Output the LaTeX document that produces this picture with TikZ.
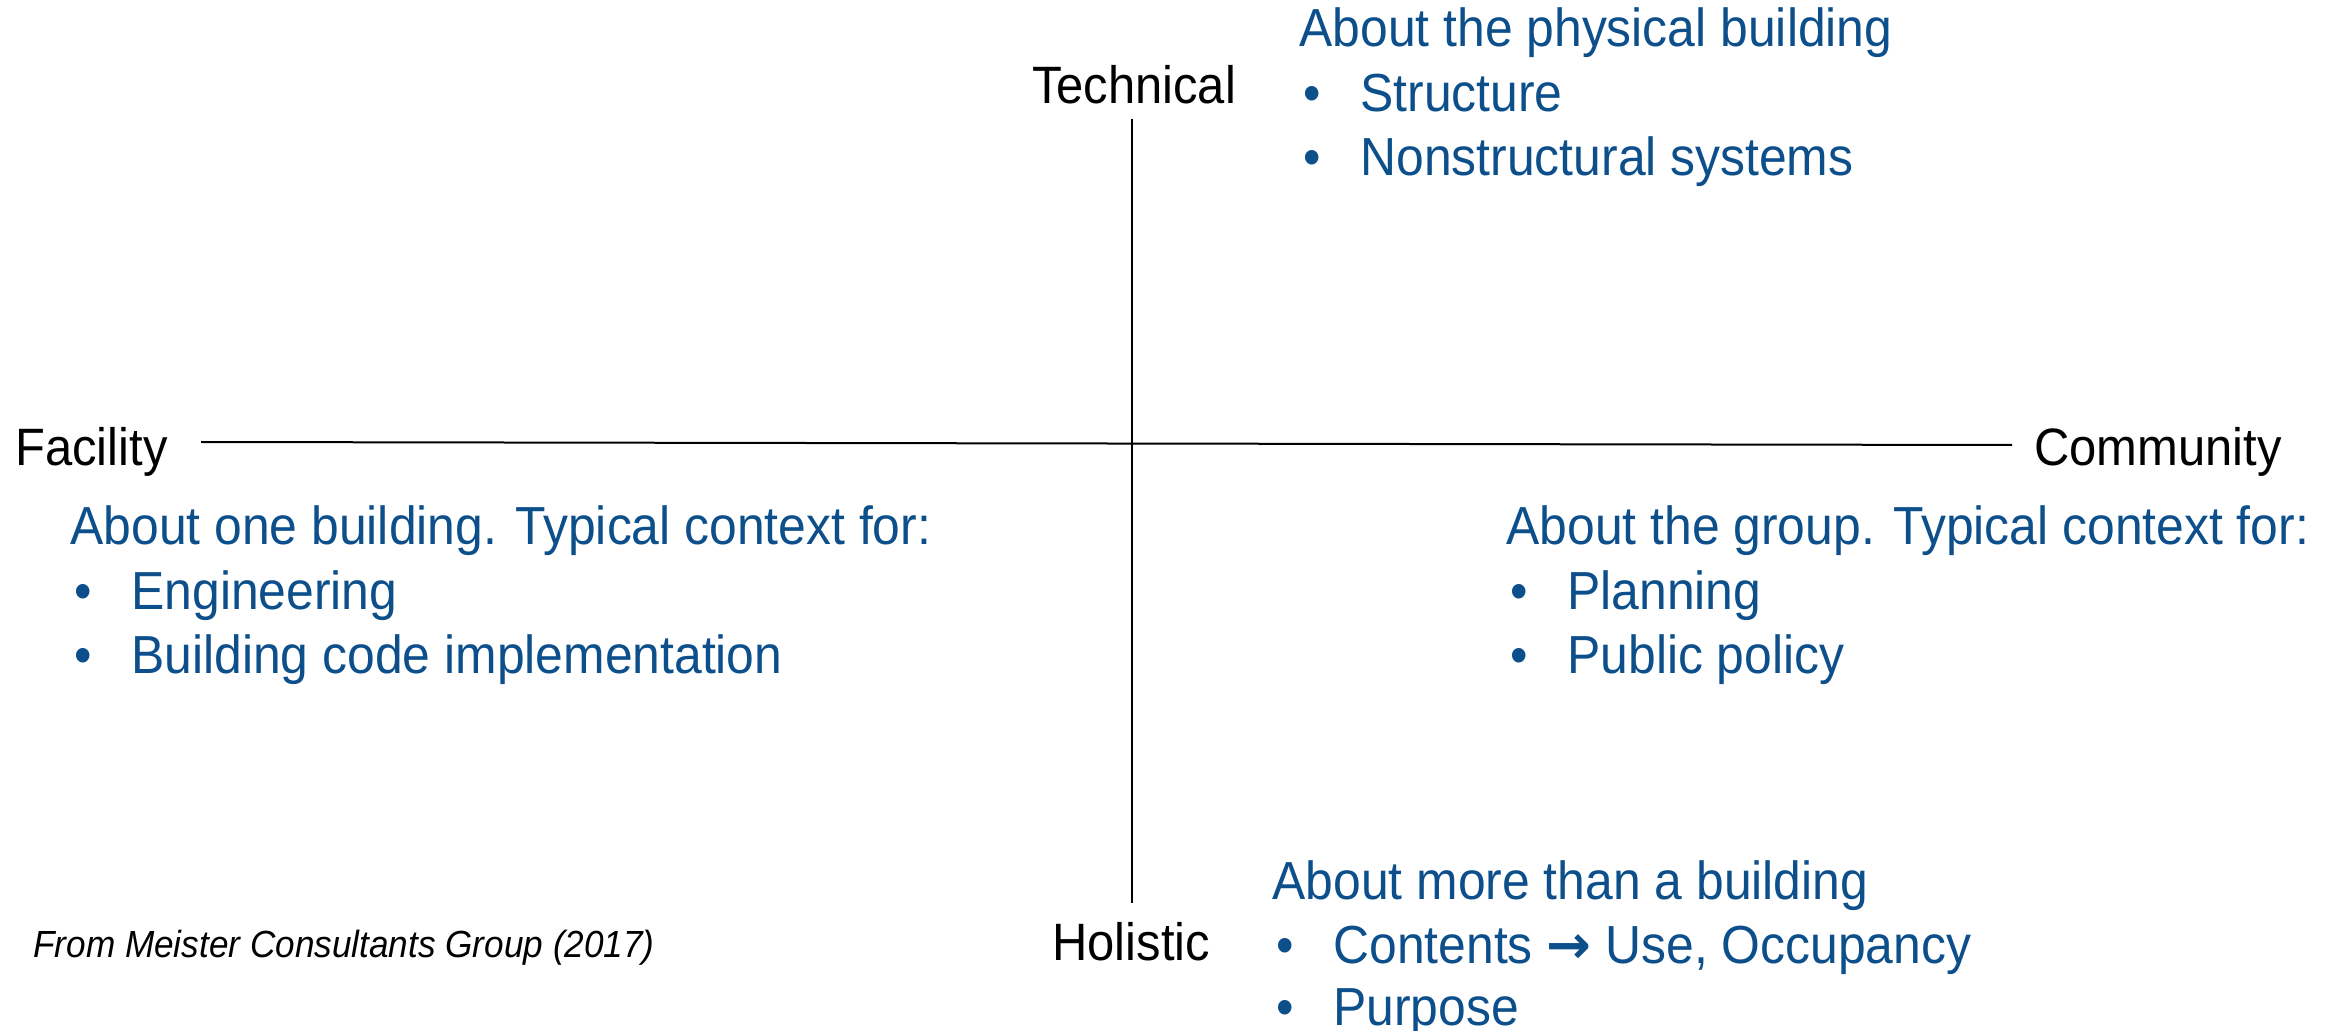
\documentclass[tikz,border=0pt]{standalone}
\usepackage{fontspec}
\setmainfont{Liberation Sans}[FakeStretch=0.93]
\newfontfamily\arrowfont{DejaVu Sans}
\definecolor{txtblue}{RGB}{13,79,139}
\begin{document}
\begin{tikzpicture}[x=0.5pt,y=-0.5pt,
  axislabel/.style={inner sep=0pt,font=\fontsize{26.3pt}{31pt}\selectfont,text=black},
  bluetxt/.style={inner sep=0pt,anchor=base west,font=\fontsize{26.8pt}{32pt}\selectfont,text=txtblue},
  bul/.style={inner sep=0pt,anchor=base west,font=\fontsize{26.8pt}{32pt}\selectfont,text=txtblue},
  axisline/.style={line width=1pt,draw=black}]
\useasboundingbox (0,0) rectangle (2333,1031);
% axis labels
\node[axislabel,anchor=base] (tech) at (1134,104) {Technical};
\node[axislabel,anchor=base west] (fac) at (15,466) {Facility};
\node[axislabel,anchor=base west] (com) at (2034,466) {Community};
\node[axislabel,anchor=base west] (hol) at (1052,960) {Holistic};
\node[inner sep=0pt,anchor=base west,font=\fontsize{18.9pt}{22pt}\selectfont\itshape] (src) at (33,957) {From Meister Consultants Group (2017)};
% axes
\coordinate (vtop) at (1132,119);
\coordinate (vbot) at (1132,903);
\coordinate (hleft) at (201,442);
\coordinate (hright) at (2012,445);
\draw[axisline] (vtop) -- (vbot);
\draw[axisline] (hleft) -- (hright);
% top right block
\node[bluetxt] (trh) at (1299,47) {About the physical building};
\node[bul] (trb1) at (1303,112) {•};
\node[bluetxt] (trt1) at (1360,112) {Structure};
\node[bul] (trb2) at (1303,176) {•};
\node[bluetxt] (trt2) at (1360,176) {Nonstructural systems};
% left block
\node[bluetxt] (lh) at (70,545) {About one building. Typical context for:};
\node[bul] (lb1) at (74,609) {•};
\node[bluetxt] (lt1) at (131,609) {Engineering};
\node[bul] (lb2) at (74,673) {•};
\node[bluetxt] (lt2) at (131,673) {Building code implementation};
% right block
\node[bluetxt] (rh) at (1506,545) {About the group. Typical context for:};
\node[bul] (rb1) at (1510,609) {•};
\node[bluetxt] (rt1) at (1567,609) {Planning};
\node[bul] (rb2) at (1510,673) {•};
\node[bluetxt] (rt2) at (1567,673) {Public policy};
% bottom block
\node[bluetxt] (bh) at (1272,899) {About more than a building};
\node[bul] (bb1) at (1276,963) {•};
\node[bluetxt] (bt1) at (1333,963) {Contents {\arrowfont\bfseries →} Use, Occupancy};
\node[bul] (bb2) at (1276,1025) {•};
\node[bluetxt] (bt2) at (1333,1025) {Purpose};
\end{tikzpicture}
\end{document}
